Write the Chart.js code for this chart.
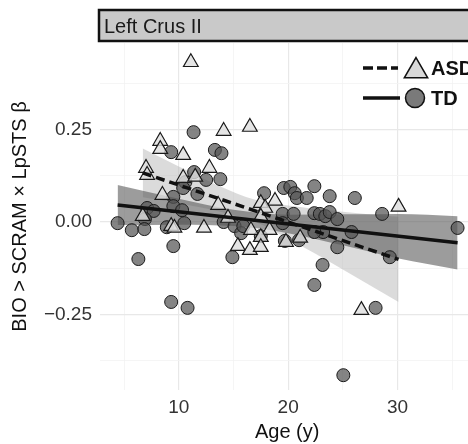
<!DOCTYPE html>
<html>
<head>
<meta charset="utf-8">
<script src="https://cdn.jsdelivr.net/npm/chart.js@4.4.0/dist/chart.umd.min.js"></script>
<style>
html, body { margin: 0; padding: 0; background: #fff; overflow: hidden; }
#wrap { position: absolute; left: 0; top: 0; width: 484px; height: 444px; }
</style>
</head>
<body>
<div id="wrap"><canvas id="chart" width="484" height="444"></canvas></div>
<script>
// Panneau et textes
const stripTitle = 'Left Crus II';
const xTitle = 'Age (y)';
const yTitle = 'BIO > SCRAM \u00d7 LpSTS \u03b2';
const groupLabels = ['ASD', 'TD'];

// Ticks
const xTicks = [5, 10, 15, 20, 25, 30, 35];
const yTicks = [-0.375, -0.25, -0.125, 0, 0.125, 0.25, 0.375];

// ASD (triangles)
const asdAge = [11.1, 14.1, 16.5, 8.3, 8.3, 10.4, 7.0, 7.1, 12.8, 10.4, 11.5, 8.5, 17.5, 18.8, 13.6, 17.9,
    6.7, 9.3, 9.6, 12.3, 14.5, 16.6, 18.3, 17.5, 15.4, 16.5, 17.5, 19.8, 21.1, 30.1, 26.7, 17.5];
const asdBeta = [0.432, 0.246, 0.257, 0.219, 0.197, 0.181, 0.146, 0.127, 0.146, 0.119, 0.122, 0.073, 0.051, 0.057, 0.046, 0.038,
    0.016, -0.011, -0.016, -0.016, 0.011, -0.022, -0.022, -0.041, -0.065, -0.076, -0.068, -0.054, -0.043, 0.041, -0.238, 0.014];

// TD (cercles)
const tdAge = [11.35, 9.3, 13.3, 13.9, 11.4, 10.6, 12.5, 13.8, 11.7, 10.4, 9.5, 17.8, 9.5, 7.1, 7.7,
    6.9, 10.3, 4.4, 5.7, 6.85, 8.9, 10.5, 14.1, 15.1, 15.7, 17.5, 14.9, 9.5, 6.3, 19.6,
    20.2, 20.6, 20.8, 21.7, 22.4, 23.8, 26.1, 28.6, 19.5, 20.5, 22.4, 22.9, 23.4, 23.8, 24.5,
    35.5, 25.8, 23.2, 22.4, 19.7, 21.0, 24.5, 29.3, 23.15, 22.4, 9.3, 10.8, 28.0, 25.05, 15.9, 19.5];
const tdBeta = [0.243, 0.189, 0.195, 0.186, 0.135, 0.108, 0.114, 0.116, 0.076, 0.092, 0.068, 0.078, 0.043, 0.038, 0.030,
    0.008, 0.032, -0.003, -0.022, -0.019, -0.014, -0.003, 0.000, -0.011, -0.030, -0.038, -0.095, -0.065, -0.100, 0.092,
    0.095, 0.078, 0.065, 0.065, 0.097, 0.070, 0.065, 0.022, 0.022, 0.022, 0.024, 0.022, 0.016, 0.027, 0.008,
    -0.016, -0.027, -0.027, -0.027, -0.051, -0.049, -0.068, -0.095, -0.116, -0.170, -0.216, -0.232, -0.232, -0.414, -0.011, -0.003];

// Droites de regression et intervalles
const asdFitAge = [6.7, 30.1];
const asdFitBeta = [0.133, -0.101];
const tdFitAge = [4.4, 35.5];
const tdFitBeta = [0.046, -0.056];

const asdBandAge = [6.7, 10, 13.6, 17, 20, 25, 30.1];
const asdBandUpper = [0.199, 0.150, 0.099, 0.060, 0.045, 0.028, 0.014];
const asdBandLower = [0.067, 0.050, 0.029, 0.000, -0.045, -0.128, -0.216];
const tdBandAge = [4.4, 10, 15, 20, 25, 30, 35.5];
const tdBandUpper = [0.100, 0.063, 0.033, 0.020, 0.021, 0.022, 0.016];
const tdBandLower = [-0.008, -0.007, -0.011, -0.030, -0.063, -0.098, -0.128];

const FONT = '"Liberation Sans", Arial, Helvetica, sans-serif';

function pts(xs, ys) {
    return xs.map((x, i) => ({ x: x, y: ys[i] }));
}

function isMajorY(v) {
    return Math.abs(v * 4 - Math.round(v * 4)) < 1e-6;
}

function fmtY(v) {
    if (Math.abs(v) < 1e-9) return '0.00';
    return (v < 0 ? '\u2212' : '') + Math.abs(v).toFixed(2);
}

/**
 * Bandeau gris du panneau
 */
const stripPlugin = {
    id: 'strip',
    beforeDraw(chart) {
        const { ctx, chartArea } = chart;
        ctx.save();
        ctx.fillStyle = '#c9c9c9';
        ctx.fillRect(chartArea.left - 1, 10, chartArea.right - chartArea.left + 6, 31);
        ctx.lineWidth = 2.5;
        ctx.strokeStyle = '#111';
        ctx.strokeRect(chartArea.left - 1, 10, chartArea.right - chartArea.left + 6, 31);
        ctx.fillStyle = '#1a1a1a';
        ctx.font = '20px ' + FONT;
        ctx.textBaseline = 'middle';
        ctx.textAlign = 'left';
        ctx.fillText(stripTitle, chartArea.left + 4, 27);
        ctx.restore();
    }
};

/**
 * Legende dans le coin haut droit
 */
const legendPlugin = {
    id: 'groupLegend',
    afterDraw(chart) {
        const ctx = chart.ctx;
        ctx.save();
        // ASD
        ctx.strokeStyle = '#111';
        ctx.lineWidth = 3.5;
        ctx.setLineDash([10, 4]);
        ctx.beginPath();
        ctx.moveTo(363, 68);
        ctx.lineTo(398, 68);
        ctx.stroke();
        ctx.setLineDash([]);
        const r = 13.5, cx = 416, cy = 71;
        ctx.beginPath();
        ctx.moveTo(cx, cy - r);
        ctx.lineTo(cx + r * Math.sin(2 * Math.PI / 3), cy - r * Math.cos(2 * Math.PI / 3));
        ctx.lineTo(cx + r * Math.sin(4 * Math.PI / 3), cy - r * Math.cos(4 * Math.PI / 3));
        ctx.closePath();
        ctx.fillStyle = '#d9d9d9';
        ctx.fill();
        ctx.lineWidth = 1.5;
        ctx.stroke();
        // TD
        ctx.lineWidth = 3.5;
        ctx.beginPath();
        ctx.moveTo(363, 98);
        ctx.lineTo(400, 98);
        ctx.stroke();
        ctx.beginPath();
        ctx.arc(415, 98, 9.5, 0, Math.PI * 2);
        ctx.fillStyle = '#7a7a7a';
        ctx.fill();
        ctx.lineWidth = 1.5;
        ctx.stroke();
        // textes
        ctx.fillStyle = '#111';
        ctx.font = 'bold 20px ' + FONT;
        ctx.textBaseline = 'middle';
        ctx.fillText(groupLabels[0], 431, 69);
        ctx.fillText(groupLabels[1], 431, 99);
        ctx.restore();
    }
};

const ctx = document.getElementById('chart').getContext('2d');
new Chart(ctx, {
    type: 'scatter',
    data: {
        datasets: [
            {
                type: 'line',
                data: pts(asdBandAge, asdBandUpper),
                borderWidth: 0,
                pointRadius: 0,
                cubicInterpolationMode: 'monotone',
                backgroundColor: 'rgba(175,175,175,0.45)',
                fill: '+1',
                order: 8
            },
            {
                type: 'line',
                data: pts(asdBandAge, asdBandLower),
                borderWidth: 0,
                pointRadius: 0,
                cubicInterpolationMode: 'monotone',
                fill: false,
                order: 7
            },
            {
                type: 'line',
                data: pts(tdBandAge, tdBandUpper),
                borderWidth: 0,
                pointRadius: 0,
                cubicInterpolationMode: 'monotone',
                backgroundColor: 'rgba(90,90,90,0.6)',
                fill: '+1',
                order: 6
            },
            {
                type: 'line',
                data: pts(tdBandAge, tdBandLower),
                borderWidth: 0,
                pointRadius: 0,
                cubicInterpolationMode: 'monotone',
                fill: false,
                order: 5
            },
            {
                label: 'TD',
                data: pts(tdAge, tdBeta),
                pointStyle: 'circle',
                pointRadius: 6.5,
                backgroundColor: 'rgba(85,85,85,0.72)',
                borderColor: '#1a1a1a',
                borderWidth: 1,
                order: 4
            },
            {
                label: 'ASD',
                data: pts(asdAge, asdBeta),
                pointStyle: 'triangle',
                pointRadius: 8.5,
                backgroundColor: 'rgba(222,222,222,0.8)',
                borderColor: '#1a1a1a',
                borderWidth: 1.2,
                order: 3
            },
            {
                type: 'line',
                data: pts(tdFitAge, tdFitBeta),
                borderColor: '#111',
                borderWidth: 3.5,
                pointRadius: 0,
                fill: false,
                order: 2
            },
            {
                type: 'line',
                data: pts(asdFitAge, asdFitBeta),
                borderColor: '#111',
                borderWidth: 3.5,
                borderDash: [9, 5],
                pointRadius: 0,
                fill: false,
                order: 1
            }
        ]
    },
    options: {
        responsive: false,
        animation: false,
        layout: { padding: { top: 43, right: 4, left: 0, bottom: 0 } },
        plugins: {
            legend: { display: false },
            tooltip: { enabled: false }
        },
        scales: {
            x: {
                type: 'linear',
                min: 2.79,
                max: 37.03,
                border: { display: false },
                grid: {
                    drawTicks: false,
                    color: c => (c.tick && c.tick.value % 10 === 0) ? '#e8e8e8' : '#f3f3f3',
                    lineWidth: c => (c.tick && c.tick.value % 10 === 0) ? 1.2 : 0.8
                },
                afterBuildTicks: s => { s.ticks = xTicks.map(v => ({ value: v })); },
                afterFit: s => { s.height = 54; },
                ticks: {
                    autoSkip: false,
                    maxRotation: 0,
                    padding: 6,
                    color: '#333',
                    font: { family: FONT, size: 19 },
                    callback: v => v % 10 === 0 ? String(v) : ''
                },
                title: {
                    display: true,
                    text: xTitle,
                    color: '#111',
                    padding: { top: 0, bottom: 0 },
                    font: { family: FONT, size: 20 }
                }
            },
            y: {
                type: 'linear',
                min: -0.454,
                max: 0.484,
                border: { display: false },
                grid: {
                    drawTicks: false,
                    color: c => (c.tick && isMajorY(c.tick.value)) ? '#e8e8e8' : '#f3f3f3',
                    lineWidth: c => (c.tick && isMajorY(c.tick.value)) ? 1.2 : 0.8
                },
                afterBuildTicks: s => { s.ticks = yTicks.map(v => ({ value: v })); },
                afterFit: s => { s.width = 100; },
                ticks: {
                    autoSkip: false,
                    padding: 8,
                    color: '#333',
                    font: { family: FONT, size: 19 },
                    callback: v => isMajorY(v) ? fmtY(v) : ''
                },
                title: {
                    display: true,
                    text: yTitle,
                    color: '#111',
                    padding: { top: 8, bottom: 0 },
                    font: { family: FONT, size: 20 }
                }
            }
        }
    },
    plugins: [stripPlugin, legendPlugin]
});
</script>
</body>
</html>
